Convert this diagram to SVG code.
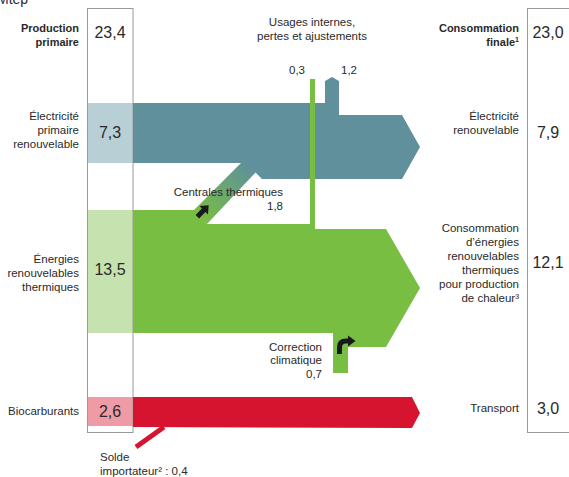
<svg xmlns="http://www.w3.org/2000/svg" width="569" height="477" viewBox="0 0 569 477">
<defs>
<linearGradient id="gband" x1="200" y1="217" x2="250" y2="166" gradientUnits="userSpaceOnUse">
<stop offset="0" stop-color="#78be43"/>
<stop offset="1" stop-color="#5f909b"/>
</linearGradient>
<style>
text{font-family:"Liberation Sans",Arial,sans-serif;fill:#2a2a2a}
.lbl{font-size:11.5px}
.r{text-anchor:end}
.m{text-anchor:middle}
.b{font-weight:bold;font-size:11px}
.num{font-size:16px;text-anchor:middle}
.box{fill:none;stroke:#9a9a9a;stroke-width:1}
</style>
</defs>
<rect width="569" height="477" fill="#ffffff"/>
<text x="-3" y="3.5" style="font-size:14px">Mtep</text>

<g id="col-left">
<rect x="87.5" y="103" width="45.5" height="60" fill="#b9cfd6"/>
<rect x="87.5" y="210" width="45.5" height="123" fill="#c5e2af"/>
<rect x="87.5" y="397" width="45.5" height="29" fill="#ef9ba6"/>
<rect class="box" x="87.5" y="8.5" width="45.5" height="424"/>
</g>
<g id="col-right">
<rect class="box" x="527.5" y="8.5" width="60" height="424"/>
</g>

<g id="connectors">
<polygon id="flow-elec" fill="#5f909b" points="133,103 325,103 325,81 332,77 339,81 339,115 402,115 420,147 402,179 262,179 253,170 242,163 133,163"/>
<polygon id="flow-therm" fill="#78be43" points="133,210 195,210 207,224 310,224 310,79 315,79 315,229 386,229 420,288 386,347 348,347 348,373 333,373 333,333 133,333"/>
<polygon id="flow-centrales" fill="url(#gband)" points="193,211 243,161 256,172 207,224"/>
<polygon id="flow-bio" fill="#d7142f" points="133,397 412,397 420,413 412,428 133,427"/>
<line x1="136" y1="447" x2="164" y2="427" stroke="#d7142f" stroke-width="5"/>
<polygon fill="#1a1a1a" transform="translate(203,211) rotate(-45)" points="-8,-2.5 1,-2.5 1,-6 8,0 1,6 1,2.5 -8,2.5"/>
<path d="M339.5,354 L339.5,347 Q339.5,341 346,341 L348.5,341" fill="none" stroke="#1a1a1a" stroke-width="5"/>
<polygon fill="#1a1a1a" points="348,335.5 355.5,341 348,346.5"/>
</g>

<g id="n-production">
<text class="b r" x="79" y="32">Production</text>
<text class="b r" x="79" y="46">primaire</text>
<text class="num" x="110" y="38">23,4</text>
</g>
<g id="n-elec-prim">
<text class="lbl r" x="79" y="120">Électricité</text>
<text class="lbl r" x="79" y="134">primaire</text>
<text class="lbl r" x="79" y="148">renouvelable</text>
<text class="num" x="110" y="138">7,3</text>
</g>
<g id="n-therm-prim">
<text class="lbl r" x="79" y="263">Énergies</text>
<text class="lbl r" x="79" y="277">renouvelables</text>
<text class="lbl r" x="79" y="291">thermiques</text>
<text class="num" x="110" y="275">13,5</text>
</g>
<g id="n-bio">
<text class="lbl r" x="79" y="415">Biocarburants</text>
<text class="num" x="110" y="417">2,6</text>
</g>
<g id="n-solde">
<text class="lbl" x="100" y="461">Solde</text>
<text class="lbl" x="100" y="475">importateur² : 0,4</text>
</g>
<g id="n-usages">
<text class="lbl m" x="312" y="26">Usages internes,</text>
<text class="lbl m" x="312" y="40">pertes et ajustements</text>
<text class="lbl r" x="305" y="74">0,3</text>
<text class="lbl" x="341" y="74">1,2</text>
</g>
<g id="n-centrales">
<text class="lbl r" x="283" y="196">Centrales thermiques</text>
<text class="lbl r" x="283" y="210">1,8</text>
</g>
<g id="n-correction">
<text class="lbl r" x="322" y="351">Correction</text>
<text class="lbl r" x="322" y="364">climatique</text>
<text class="lbl r" x="322" y="378">0,7</text>
</g>
<g id="n-conso">
<text class="b r" x="519" y="32">Consommation</text>
<text class="b r" x="519" y="46">finale<tspan style="font-size:7px" dy="-4">1</tspan></text>
<text class="num" x="548" y="38">23,0</text>
</g>
<g id="n-elec-ren">
<text class="lbl r" x="519" y="120">Électricité</text>
<text class="lbl r" x="519" y="134">renouvelable</text>
<text class="num" x="548" y="138">7,9</text>
</g>
<g id="n-chaleur">
<text class="lbl r" x="519" y="232">Consommation</text>
<text class="lbl r" x="519" y="246">d’énergies</text>
<text class="lbl r" x="519" y="260">renouvelables</text>
<text class="lbl r" x="519" y="274">thermiques</text>
<text class="lbl r" x="519" y="288">pour production</text>
<text class="lbl r" x="519" y="302">de chaleur³</text>
<text class="num" x="548" y="268">12,1</text>
</g>
<g id="n-transport">
<text class="lbl r" x="519" y="412">Transport</text>
<text class="num" x="548" y="414">3,0</text>
</g>
</svg>
